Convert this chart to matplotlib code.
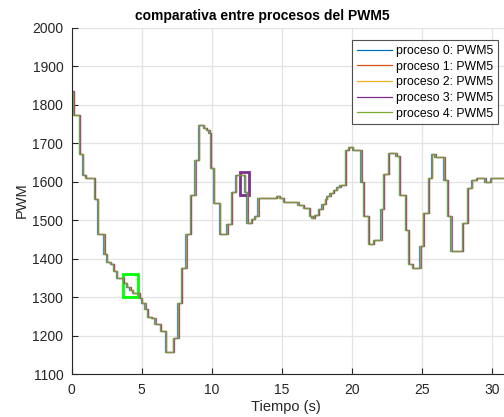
import numpy as np
import matplotlib
matplotlib.use("Agg")
import matplotlib.pyplot as plt
from matplotlib.patches import Rectangle

plt.rcParams['font.family'] = ['Liberation Sans', 'DejaVu Sans']

# step times (s) and PWM values, common shape for all processes
tiempos = [0.0, 0.1, 0.54, 0.78, 0.97, 1.61, 1.85, 2.3, 2.49, 2.77, 2.96, 3.2,
           3.67, 3.91, 4.15, 4.34, 4.81, 4.98, 5.21, 5.38, 5.69, 5.92, 6.33,
           6.7, 7.23, 7.58, 7.82, 8.13, 8.46, 8.77, 9.05, 9.41, 9.6, 9.79,
           9.88, 10.12, 10.55, 11.07, 11.38, 11.69, 12.33, 12.49, 12.8, 13.04,
           13.27, 14.58, 14.81, 15.1, 16.12, 16.52, 16.95, 17.14, 17.3, 17.59,
           17.85, 18.07, 18.18, 18.42, 18.66, 18.89, 19.13, 19.51, 19.74,
           20.03, 20.62, 20.79, 21.15, 21.5, 22.05, 22.21, 22.59, 23.12,
           23.35, 23.78, 24.01, 24.3, 24.82, 25.06, 25.43, 25.67, 25.91,
           26.55, 26.79, 27.03, 27.85, 28.2, 28.52, 28.85, 29.47, 29.87,
           31.5, 33.0]
pwm = [1836, 1773, 1673, 1618, 1611, 1556, 1465, 1412, 1392, 1386, 1368, 1349,
       1338, 1327, 1318, 1312, 1299, 1286, 1269, 1250, 1245, 1231, 1212,
       1159, 1195, 1286, 1375, 1465, 1565, 1656, 1747, 1741, 1734, 1727,
       1637, 1546, 1465, 1491, 1574, 1618, 1574, 1494, 1503, 1511,
       1557, 1563, 1557, 1548, 1540, 1531, 1511, 1505, 1514, 1529,
       1543, 1555, 1563, 1572, 1580, 1586, 1592, 1682, 1690,
       1682, 1600, 1511, 1439, 1448, 1530, 1619, 1676, 1667,
       1566, 1475, 1386, 1375, 1433, 1520, 1611, 1673, 1664,
       1604, 1511, 1420, 1494, 1583, 1604, 1611, 1600, 1611,
       1603, 1603]

# small time lag of each process relative to the common shape
procesos = ["proceso 0: PWM5", "proceso 1: PWM5", "proceso 2: PWM5",
            "proceso 3: PWM5", "proceso 4: PWM5"]
retardos = [-0.04, 0.03, 0.05, 0.06, 0.0]
colores = ["#0072BD", "#D95319", "#EDB120", "#7E2F8E", "#77AC30"]

# highlight boxes: x0, y0, x1, y1
caja_verde = [3.67, 1301, 4.74, 1361]
caja_morada = [12.0, 1566, 12.63, 1626]

fig = plt.figure(figsize=(5.04, 4.17), dpi=100)
ax = fig.add_axes([71.7 / 504, 42.7 / 417, 462.7 / 504, 346.5 / 417])

t = np.array(tiempos)
for nombre, d, c in zip(procesos, retardos, colores):
    ax.step(t + d, pwm, where='post', color=c, lw=0.9, alpha=0.75, label=nombre)

ax.add_patch(Rectangle((caja_verde[0], caja_verde[1]), caja_verde[2] - caja_verde[0],
                       caja_verde[3] - caja_verde[1], fill=False, ec='#00FF00', lw=2.0))
ax.add_patch(Rectangle((caja_morada[0], caja_morada[1]), caja_morada[2] - caja_morada[0],
                       caja_morada[3] - caja_morada[1], fill=False, ec='#7E2F8E', lw=2.0))

ax.set_xlim(0, 33)
ax.set_ylim(1100, 2000)
ax.set_xticks(range(0, 35, 5))
ax.set_yticks(range(1100, 2001, 100))
ax.grid(True, color='#e3e3e3', lw=0.9)
ax.set_axisbelow(True)
ax.tick_params(direction='in', length=4, labelsize=10, colors='#262626', pad=6)
for s in ['top', 'right']:
    ax.spines[s].set_visible(False)
for s in ['left', 'bottom']:
    ax.spines[s].set_color('#262626')
    ax.spines[s].set_linewidth(0.8)

fig.text(262 / 504, 1 - 16 / 417, "comparativa entre procesos del PWM5",
         ha='center', va='center', fontsize=10, fontweight='bold')
fig.text(286 / 504, 1 - 407.5 / 417, "Tiempo (s)", ha='center', va='center', fontsize=10.5,
         color='#262626')
fig.text(22 / 504, 1 - 200 / 417, "PWM", ha='center', va='center', fontsize=10.5,
         rotation=90, color='#262626')

leg = ax.legend(loc='upper right', bbox_to_anchor=(498 / 504, 1 - 40 / 417),
                bbox_transform=fig.transFigure, fontsize=8.8, frameon=True,
                fancybox=False, borderaxespad=0, handlelength=2.9,
                labelspacing=0.3, borderpad=0.4, handletextpad=0.3)
leg.get_frame().set_edgecolor('#262626')
leg.get_frame().set_linewidth(0.8)
for h in leg.get_lines():
    h.set_alpha(1.0)
    h.set_linewidth(0.9)

fig.savefig("out.png", dpi=100)
